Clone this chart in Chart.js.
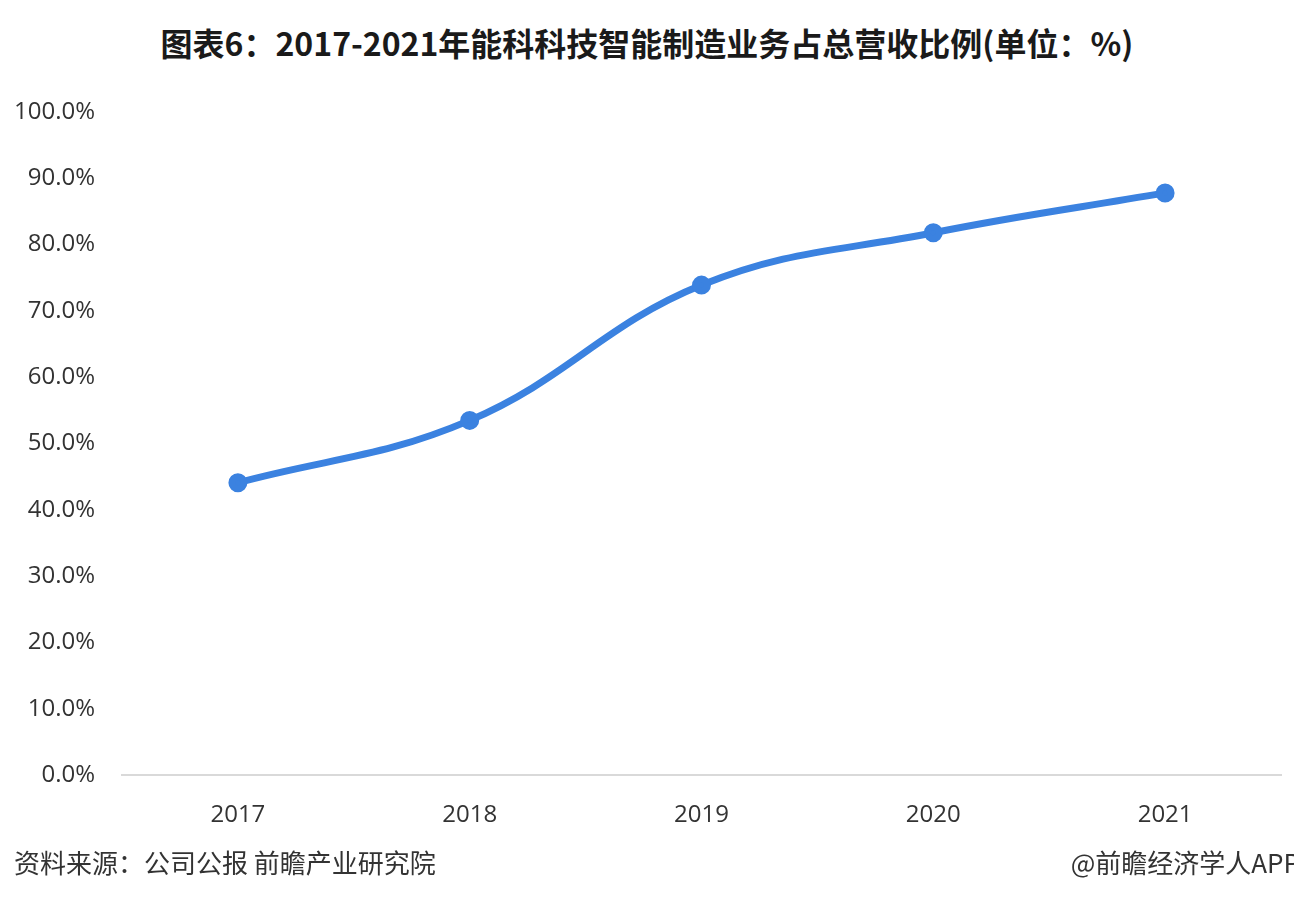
<!DOCTYPE html>
<html lang="zh">
<head>
    <meta charset="UTF-8">
    <title>能科科技智能制造业务占总营收比例</title>
    <style>
        body {
            margin: 0;
            width: 1294px;
            height: 910px;
            background: #ffffff;
            font-family: "Noto Sans CJK SC", "Noto Sans", sans-serif;
            position: relative;
            overflow: hidden;
        }
        .title {
            position: absolute;
            top: 19px;
            left: 0;
            width: 1294px;
            text-align: center;
            font-size: 32px;
            font-weight: bold;
            color: #1a1a1a;
        }
        .chart-box {
            position: absolute;
            left: 0;
            top: 0;
            width: 1294px;
            height: 856px;
        }
        .source {
            position: absolute;
            left: 14px;
            top: 843px;
            font-size: 26px;
            color: #333;
        }
        .brand {
            position: absolute;
            right: -6px;
            top: 843px;
            font-size: 26px;
            color: #333;
        }
    </style>
</head>
<body>
    <div class="title">图表6：2017-2021年能科科技智能制造业务占总营收比例(单位：%)</div>
    <div class="chart-box"><canvas id="lineChart"></canvas></div>
    <div class="source">资料来源：公司公报 前瞻产业研究院</div>
    <div class="brand">@前瞻经济学人APP</div>

    <script src="https://cdn.jsdelivr.net/npm/chart.js"></script>
    <script>
        // values
        const years = ['2017', '2018', '2019', '2020', '2021'];
        const shareValues = [44.1, 53.5, 73.9, 81.8, 87.8];
        const yTicks = [0, 10, 20, 30, 40, 50, 60, 70, 80, 90, 100];

        const ctx = document.getElementById('lineChart').getContext('2d');

        new Chart(ctx, {
            type: 'line',
            data: {
                labels: years,
                datasets: [{
                    label: '智能制造业务占比',
                    data: shareValues,
                    borderColor: '#3b82e0',
                    backgroundColor: '#3b82e0',
                    borderWidth: 7,
                    pointRadius: 6,
                    pointHoverRadius: 6,
                    tension: 0.4,
                    fill: false
                }]
            },
            options: {
                responsive: true,
                maintainAspectRatio: false,
                animation: false,
                layout: {
                    padding: { top: 112, right: 12, bottom: 0, left: 0 }
                },
                plugins: {
                    legend: { display: false },
                    tooltip: { enabled: false }
                },
                scales: {
                    x: {
                        offset: true,
                        grid: { display: false, drawTicks: false },
                        border: { display: true, color: '#d9d9d9', width: 2 },
                        ticks: {
                            padding: 26,
                            color: '#333',
                            font: { size: 24, family: 'Open Sans' }
                        }
                    },
                    y: {
                        min: 0,
                        max: 100,
                        afterBuildTicks: axis => {
                            axis.ticks = yTicks.map(v => ({ value: v }));
                        },
                        afterFit: axis => { axis.width = 122; },
                        grid: { display: false, drawTicks: false },
                        border: { display: false },
                        ticks: {
                            padding: 27,
                            color: '#333',
                            font: { size: 24, family: 'Open Sans' },
                            callback: v => v.toFixed(1) + '%'
                        }
                    }
                }
            }
        });
    </script>
</body>
</html>
